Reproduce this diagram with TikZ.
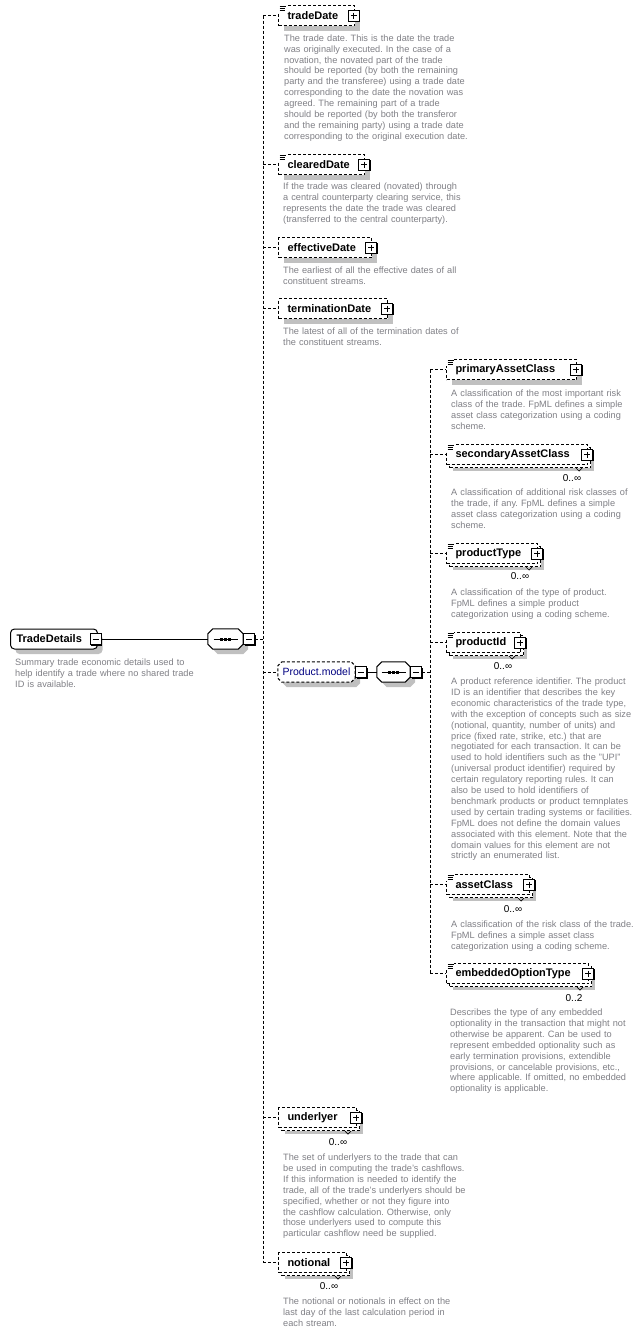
\documentclass[tikz,border=0pt]{standalone}
\usepackage{fontspec}
\setmainfont{Liberation Sans}
\usetikzlibrary{shadows}
\frenchspacing
\definecolor{descgray}{RGB}{128,128,134}
\definecolor{shgray}{RGB}{192,192,192}
\definecolor{pmblue}{RGB}{0,0,128}
\pgfdeclarelayer{bgzero}
\pgfdeclarelayer{background}
\pgfsetlayers{bgzero,background,main}
\tikzset{
  dconn/.style={line width=1pt, dash pattern=on 3pt off 2pt},
  sconn/.style={line width=1pt},
  ebase/.style={draw, line width=1pt, dash pattern=on 3pt off 2pt, fill=white, rectangle,
    minimum height=20pt, inner ysep=0pt, inner xsep=9pt, anchor=north west, align=left,
    text width=#1, font=\fontsize{11}{13}\selectfont\bfseries},
  esingle/.style={ebase=#1, drop shadow={shadow xshift=5pt, shadow yshift=-5pt, fill=shgray, opacity=1}},
  erep/.style={ebase=#1, drop shadow={shadow xshift=6pt, shadow yshift=-6pt, fill=shgray, opacity=1},
    general shadow={shadow xshift=3pt, shadow yshift=-3pt, draw, line width=1pt, dash pattern=on 3pt off 2pt, fill=white}},
  pmbox/.style={draw, solid, line width=1pt, fill=white, rectangle, minimum size=11pt, inner sep=0pt,
    drop shadow={shadow xshift=1.3pt, shadow yshift=-1.3pt, fill=black, opacity=1}},
  minusbox/.style={pmbox, path picture={\draw[line width=1pt] ([xshift=2.5pt]path picture bounding box.west) -- ([xshift=-2.5pt]path picture bounding box.east);}},
  plusbox/.style={pmbox, path picture={\draw[line width=1pt] ([xshift=2.5pt]path picture bounding box.west) -- ([xshift=-2.5pt]path picture bounding box.east) ([yshift=-2.5pt]path picture bounding box.north) -- ([yshift=2.5pt]path picture bounding box.south);}},
  seqframe/.style={rectangle, minimum width=#1, minimum height=20pt, inner sep=0pt},
  grpframe/.style={rectangle, minimum width=77pt, minimum height=20pt, inner sep=0pt, text=pmblue,
    font=\fontsize{10.5}{12}\selectfont},
  rootbox/.style={draw, solid, line width=1pt, fill=white, rounded corners=4pt, minimum height=20pt,
    inner ysep=0pt, inner xsep=6pt, anchor=west, align=left, text width=75pt,
    font=\fontsize{11}{13}\selectfont\bfseries,
    drop shadow={shadow xshift=5pt, shadow yshift=-5pt, fill=shgray, opacity=1}},
  mult/.style={font=\fontsize{10}{12}\selectfont, inner sep=0pt},
  desc/.style={anchor=north west, inner sep=0pt, text width=200pt, align=left, text=descgray,
    font=\fontsize{9.2}{10.9}\selectfont},
}
% octagon outline round a node: #1 node, #2 chamfer, #3 offset, #4 path options
\newcommand\octshape[4]{%
  \path[#4] ([xshift={(#3+#2)*1pt},yshift={-#3*1pt}]#1.north west)
   -- ([xshift={(#3-#2)*1pt},yshift={-#3*1pt}]#1.north east)
   -- ([xshift={#3*1pt},yshift={-(#3+#2)*1pt}]#1.north east)
   -- ([xshift={#3*1pt},yshift={(#2-#3)*1pt}]#1.south east)
   -- ([xshift={(#3-#2)*1pt},yshift={-#3*1pt}]#1.south east)
   -- ([xshift={(#3+#2)*1pt},yshift={-#3*1pt}]#1.south west)
   -- ([xshift={#3*1pt},yshift={(#2-#3)*1pt}]#1.south west)
   -- ([xshift={#3*1pt},yshift={-(#3+#2)*1pt}]#1.north west) -- cycle;}
\newcommand\docicon[1]{%
  \fill[white] ([xshift=-1pt,yshift=1pt]#1.north west) rectangle ([xshift=8pt,yshift=-7pt]#1.north west);
  \draw[line width=0.8pt] ([xshift=1.5pt,yshift=-1.5pt]#1.north west) -- ++(6,0);
  \draw[line width=0.8pt] ([xshift=1.5pt,yshift=-3.5pt]#1.north west) -- ++(5.5,0);
  \draw[line width=0.8pt] ([xshift=1.5pt,yshift=-5.5pt]#1.north west) -- ++(5.5,0);}
\newcommand\repnotch[1]{%
  \draw[line width=0.7pt] ([xshift=-12pt,yshift=-3pt]#1.south east) -- ++(3,3) -- ++(3,-3);}
\newcommand\seqdots[1]{%
  \draw[line width=1pt] ([xshift=-12pt]#1.center) -- ([xshift=12pt]#1.center);
  \fill ([xshift=-5.5pt,yshift=1.5pt]#1.center) rectangle ++(3,3);
  \fill ([xshift=-1.5pt,yshift=1.5pt]#1.center) rectangle ++(3,3);
  \fill ([xshift=2.5pt,yshift=1.5pt]#1.center) rectangle ++(3,3);}
\begin{document}
\begin{tikzpicture}[x=1pt,y=-1pt]
\useasboundingbox (0,0) rectangle (641,1333);
\begin{pgfonlayer}{bgzero}
\fill[white] (0,0) rectangle (641,1333);
\end{pgfonlayer}
\coordinate (br1) at (263,0);
\coordinate (br2) at (430,0);

% root
\node[rootbox] (TradeDetails) at (10,639) {TradeDetails};
\node[minusbox] (TradeDetails-m) at (95.5,639) {};
\node[desc] (TradeDetails-d) at (15,657.7) {\strut Summary trade economic details used to\\help identify a trade where no shared trade\\ID is available.};

% main sequence compositor
\node[seqframe=35pt] (seqA) at (225.5,639) {};
\begin{pgfonlayer}{background}
\octshape{seqA}{5}{5}{fill=shgray}
\octshape{seqA}{5}{0}{draw, line width=1pt, fill=white}
\end{pgfonlayer}
\seqdots{seqA}
\node[minusbox] (seqA-m) at (249,639) {};

% level 1 elements
\node[esingle=58pt] (tradeDate) at (278,5) {tradeDate};
\node[plusbox] (tradeDate-p) at ([xshift=-1.5pt]tradeDate.east) {};
\docicon{tradeDate}
\node[desc] (tradeDate-d) at (284,33.4) {\strut The trade date. This is the date the trade\\was originally executed. In the case of a\\novation, the novated part of the trade\\should be reported (by both the remaining\\party and the transferee) using a trade date\\corresponding to the date the novation was\\agreed. The remaining part of a trade\\should be reported (by both the transferor\\and the remaining party) using a trade date\\corresponding to the original execution date.};

\node[esingle=68pt] (clearedDate) at (278,154) {clearedDate};
\node[plusbox] (clearedDate-p) at ([xshift=-1pt]clearedDate.east) {};
\docicon{clearedDate}
\node[desc] (clearedDate-d) at (283,181.7) {\strut If the trade was cleared (novated) through\\a central counterparty clearing service, this\\represents the date the trade was cleared\\(transferred to the central counterparty).};

\node[esingle=75pt] (effectiveDate) at (278,237) {effectiveDate};
\node[plusbox] (effectiveDate-p) at ([xshift=-1pt]effectiveDate.east) {};
\node[desc] (effectiveDate-d) at (283,265.7) {\strut The earliest of all the effective dates of all\\constituent streams.};

\node[esingle=91pt] (terminationDate) at (278,298) {terminationDate};
\node[plusbox] (terminationDate-p) at ([xshift=-1pt]terminationDate.east) {};
\node[desc] (terminationDate-d) at (283,326.7) {\strut The latest of all of the termination dates of\\the constituent streams.};

% Product.model group
\node[grpframe] (PM) at (316.5,672) {Product.model};
\begin{pgfonlayer}{background}
\octshape{PM}{4}{5}{fill=shgray}
\octshape{PM}{4}{0}{draw, line width=1pt, dash pattern=on 3pt off 2pt, fill=white}
\end{pgfonlayer}
\node[minusbox] (PM-m) at (361,672) {};
\node[seqframe=33pt] (seqB) at (393.5,672) {};
\begin{pgfonlayer}{background}
\octshape{seqB}{5}{5}{fill=shgray}
\octshape{seqB}{5}{0}{draw, line width=1pt, fill=white}
\end{pgfonlayer}
\seqdots{seqB}
\node[minusbox] (seqB-m) at (416,672) {};

% level 2 elements
\node[esingle=112pt] (primaryAssetClass) at (446,359) {primaryAssetClass};
\node[plusbox] (primaryAssetClass-p) at ([xshift=-1pt]primaryAssetClass.east) {};
\docicon{primaryAssetClass}
\node[desc] (primaryAssetClass-d) at (451,388.7) {\strut A classification of the most important risk\\class of the trade. FpML defines a simple\\asset class categorization using a coding\\scheme.};

\node[erep=123pt] (secondaryAssetClass) at (446,444) {secondaryAssetClass};
\node[plusbox] (secondaryAssetClass-p) at ([xshift=-1pt]secondaryAssetClass.east) {};
\docicon{secondaryAssetClass}
\repnotch{secondaryAssetClass}
\node[mult] (secondaryAssetClass-m) at ([xshift=-16pt,yshift=-13pt]secondaryAssetClass.south east) {0..∞};
\node[desc] (secondaryAssetClass-d) at (451,487.7) {\strut A classification of additional risk classes of\\the trade, if any. FpML defines a simple\\asset class categorization using a coding\\scheme.};

\node[erep=73pt] (productType) at (446,543) {productType};
\node[plusbox] (productType-p) at ([xshift=-1pt]productType.east) {};
\docicon{productType}
\repnotch{productType}
\node[mult] (productType-m) at ([xshift=-18pt,yshift=-12pt]productType.south east) {0..∞};
\node[desc] (productType-d) at (451,587.7) {\strut A classification of the type of product.\\FpML defines a simple product\\categorization using a coding scheme.};

\node[erep=56pt] (productId) at (446,632) {productId};
\node[plusbox] (productId-p) at ([xshift=-1pt]productId.east) {};
\docicon{productId}
\repnotch{productId}
\node[mult] (productId-m) at ([xshift=-18pt,yshift=-13pt]productId.south east) {0..∞};
\node[desc] (productId-d) at (451,676.7) {\strut A product reference identifier. The product\\ID is an identifier that describes the key\\economic characteristics of the trade type,\\with the exception of concepts such as size\\(notional, quantity, number of units) and\\price (fixed rate, strike, etc.) that are\\negotiated for each transaction. It can be\\used to hold identifiers such as the "UPI"\\(universal product identifier) required by\\certain regulatory reporting rules. It can\\also be used to hold identifiers of\\benchmark products or product temnplates\\used by certain trading systems or facilities.\\FpML does not define the domain values\\associated with this element. Note that the\\domain values for this element are not\\strictly an enumerated list.};

\node[erep=65pt] (assetClass) at (446,874) {assetClass};
\node[plusbox] (assetClass-p) at ([xshift=-1pt]assetClass.east) {};
\docicon{assetClass}
\repnotch{assetClass}
\node[mult] (assetClass-m) at ([xshift=-17pt,yshift=-14pt]assetClass.south east) {0..∞};
\node[desc] (assetClass-d) at (451,919.7) {\strut A classification of the risk class of the trade.\\FpML defines a simple asset class\\categorization using a coding scheme.};

\node[erep=124pt] (embeddedOptionType) at (446,963) {embeddedOptionType};
\node[plusbox] (embeddedOptionType-p) at ([xshift=-1pt]embeddedOptionType.east) {};
\docicon{embeddedOptionType}
\repnotch{embeddedOptionType}
\node[mult] (embeddedOptionType-m) at ([xshift=-15pt,yshift=-14pt]embeddedOptionType.south east) {0..2};
\node[desc] (embeddedOptionType-d) at (450,1007.7) {\strut Describes the type of any embedded\\optionality in the transaction that might not\\otherwise be apparent. Can be used to\\represent embedded optionality such as\\early termination provisions, extendible\\provisions, or cancelable provisions, etc.,\\where applicable. If omitted, no embedded\\optionality is applicable.};

% level 1 tail elements
\node[erep=60pt] (underlyer) at (278,1107) {underlyer};
\node[plusbox] (underlyer-p) at ([xshift=-1pt]underlyer.east) {};
\repnotch{underlyer}
\node[mult] (underlyer-m) at ([xshift=-19pt,yshift=-14pt]underlyer.south east) {0..∞};
\node[desc] (underlyer-d) at (283,1152.7) {\strut The set of underlyers to the trade that can\\be used in computing the trade's cashflows.\\If this information is needed to identify the\\trade, all of the trade's underlyers should be\\specified, whether or not they figure into\\the cashflow calculation. Otherwise, only\\those underlyers used to compute this\\particular cashflow need be supplied.};

\node[erep=50pt] (notional) at (278,1252) {notional};
\node[plusbox] (notional-p) at ([xshift=-1pt]notional.east) {};
\repnotch{notional}
\node[mult] (notional-m) at ([xshift=-18pt,yshift=-13pt]notional.south east) {0..∞};
\node[desc] (notional-d) at (283,1296.7) {\strut The notional or notionals in effect on the\\last day of the last calculation period in\\each stream.};

% connectors
\draw[sconn] (TradeDetails-m.east) -- (seqA.west);
\draw[dconn] (seqA-m.east) -- (br1 |- seqA-m.east);
\draw[dconn] (br1 |- tradeDate.west) -- (br1 |- notional.west);
\foreach \n in {tradeDate,clearedDate,effectiveDate,terminationDate,PM,underlyer,notional}
  \draw[dconn] (br1 |- \n.west) -- (\n.west);
\draw[sconn] (PM-m.east) -- (seqB.west);
\draw[dconn] (seqB-m.east) -- (br2 |- seqB-m.east);
\draw[dconn] (br2 |- primaryAssetClass.west) -- (br2 |- embeddedOptionType.west);
\foreach \n in {primaryAssetClass,secondaryAssetClass,productType,productId,assetClass,embeddedOptionType}
  \draw[dconn] (br2 |- \n.west) -- (\n.west);
\end{tikzpicture}
\end{document}
